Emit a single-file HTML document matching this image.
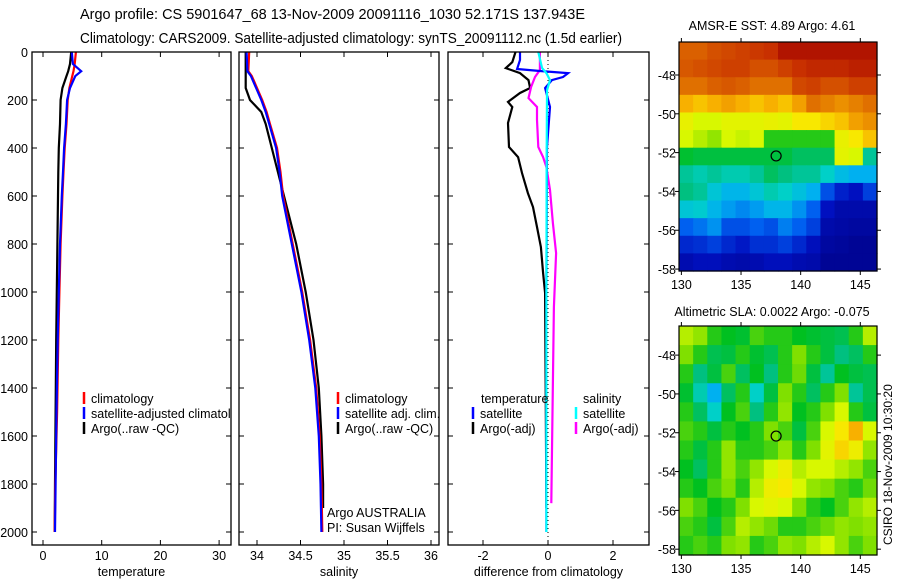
<!DOCTYPE html>
<html><head><meta charset="utf-8"><style>
body{margin:0;background:#fff;}
svg{display:block;font-family:"Liberation Sans",sans-serif;}
</style></head><body>
<svg id="fig" width="900" height="580" viewBox="0 0 900 580">
<text x="80" y="19" font-size="14.5" textLength="505" lengthAdjust="spacingAndGlyphs">Argo profile: CS 5901647_68 13-Nov-2009 20091116_1030 52.171S 137.943E</text>
<text x="80" y="43" font-size="14.5" textLength="542" lengthAdjust="spacingAndGlyphs">Climatology: CARS2009. Satellite-adjusted climatology: synTS_20091112.nc (1.5d earlier)</text>
<text x="772" y="30" font-size="12.5" text-anchor="middle">AMSR-E SST: 4.89 Argo: 4.61</text>
<text x="772" y="316" font-size="12.5" text-anchor="middle">Altimetric SLA: 0.0022 Argo: -0.075</text>
<text transform="translate(892,545) rotate(-90)" font-size="12">CSIRO 18-Nov-2009 10:30:20</text>
</svg>
<script>
// ---- profile data ----
const tDepth=[0,50,80,100,150,200,300,400,500,600,800,1000,1200,1500,1800,2000];
const tArgo=[4.8,4.6,4.3,4.0,3.3,3.0,2.9,2.7,2.6,2.55,2.45,2.35,2.25,2.15,2.05,2.0];
const tClim=[5.6,5.4,5.2,5.0,4.5,4.2,4.0,3.7,3.5,3.3,3.0,2.8,2.6,2.4,2.1,2.0];
const tSat=[4.9,5.1,6.5,5.5,4.6,4.1,3.9,3.6,3.4,3.2,2.9,2.7,2.5,2.3,2.15,2.05];
const sDepth=[0,80,100,150,200,250,300,400,500,600,800,1000,1200,1400,1600,1800,2000];
const sClim=[33.91,33.9,33.94,34.0,34.06,34.11,34.15,34.23,34.27,34.3,34.41,34.52,34.61,34.68,34.72,34.74,34.75];
const sSat=[33.88,33.89,33.93,33.99,34.05,34.1,34.14,34.22,34.26,34.29,34.4,34.51,34.6,34.67,34.71,34.73,34.74];
const sArgoDepth=[0,150,200,250,300,400,500,600,800,1000,1200,1400,1600,1800,1900];
const sArgo=[33.87,33.87,33.92,34.05,34.1,34.17,34.24,34.31,34.45,34.56,34.65,34.71,34.74,34.76,34.76];
const dTDepth=[0,42,67,88,117,150,171,208,229,296,396,438,504,588,646,729,813,921,1004,1400,1900];
const dTArgo=[-1.0,-1.1,-1.3,-0.86,-0.6,-0.55,-0.86,-1.23,-1.1,-1.23,-1.2,-0.92,-0.8,-0.62,-0.46,-0.34,-0.22,-0.15,-0.09,-0.07,-0.05];
const dTSatDepth=[0,33,71,79,88,104,117,150,229,396,1000,2000];
const dTSat=[-0.86,-0.86,-0.95,-0.25,0.62,0.46,0.12,-0.09,0.06,-0.03,-0.05,-0.05];
const dSArgoDepth=[0,75,104,146,192,229,283,396,438,479,575,713,838,1063,1500,1880];
const dSArgo=[-0.25,-0.25,-0.4,-0.52,-0.6,-0.34,-0.34,-0.3,-0.15,-0.05,0.06,0.15,0.25,0.18,0.14,0.1];
const dSSatDepth=[0,67,88,117,160,400,1000,2000];
const dSSat=[-0.3,-0.18,-0.05,0.06,-0.03,-0.04,-0.05,-0.05];
const depthTicks=[0,200,400,600,800,1000,1200,1400,1600,1800,2000];
const tTicks=[0,10,20,30];
const sTicks=[34,34.5,35,35.5,36];
const dTicks=[-2,0,2];
// ---- map data (normalised colour values 0..1) ----
const sstGrid=[
[0.82,0.82,0.84,0.85,0.86,0.87,0.88,0.95,0.95,0.95,0.95,0.95,0.95,0.95],
[0.83,0.84,0.85,0.86,0.86,0.84,0.84,0.86,0.88,0.9,0.9,0.9,0.92,0.92],
[0.8,0.8,0.82,0.83,0.82,0.8,0.8,0.8,0.85,0.86,0.84,0.84,0.86,0.86],
[0.72,0.7,0.72,0.74,0.72,0.7,0.72,0.7,0.74,0.8,0.78,0.76,0.78,0.8],
[0.63,0.6,0.6,0.62,0.62,0.62,0.63,0.62,0.66,0.66,0.68,0.7,0.74,0.76],
[0.6,0.58,0.56,0.6,0.59,0.6,0.5,0.5,0.5,0.5,0.5,0.63,0.66,0.7],
[0.47,0.46,0.46,0.46,0.46,0.46,0.46,0.46,0.44,0.44,0.44,0.62,0.6,0.4],
[0.4,0.38,0.4,0.38,0.38,0.4,0.44,0.42,0.4,0.4,0.36,0.32,0.3,0.3],
[0.42,0.4,0.34,0.31,0.31,0.34,0.38,0.36,0.33,0.3,0.2,0.14,0.12,0.18],
[0.34,0.35,0.31,0.28,0.26,0.28,0.31,0.31,0.27,0.22,0.12,0.08,0.08,0.08],
[0.22,0.24,0.27,0.2,0.2,0.22,0.2,0.25,0.22,0.18,0.08,0.07,0.06,0.06],
[0.15,0.16,0.18,0.15,0.13,0.16,0.16,0.18,0.15,0.11,0.06,0.05,0.04,0.04],
[0.09,0.11,0.11,0.09,0.08,0.09,0.11,0.11,0.09,0.08,0.04,0.04,0.04,0.04]];
const slaGrid=[
[0.58,0.56,0.5,0.48,0.47,0.52,0.5,0.5,0.48,0.47,0.46,0.45,0.5,0.58],
[0.55,0.5,0.45,0.46,0.5,0.47,0.45,0.5,0.55,0.5,0.46,0.42,0.44,0.5],
[0.5,0.42,0.46,0.52,0.44,0.48,0.42,0.5,0.54,0.46,0.4,0.48,0.46,0.45],
[0.47,0.38,0.3,0.44,0.5,0.36,0.46,0.55,0.5,0.44,0.5,0.55,0.4,0.45],
[0.5,0.44,0.36,0.48,0.52,0.42,0.5,0.56,0.48,0.5,0.55,0.6,0.5,0.46],
[0.52,0.5,0.46,0.5,0.48,0.5,0.55,0.52,0.46,0.52,0.6,0.66,0.72,0.6],
[0.5,0.46,0.5,0.56,0.5,0.5,0.52,0.56,0.5,0.55,0.62,0.68,0.64,0.56],
[0.48,0.44,0.5,0.56,0.52,0.56,0.6,0.64,0.58,0.6,0.6,0.58,0.56,0.52],
[0.5,0.48,0.52,0.55,0.5,0.58,0.64,0.66,0.6,0.56,0.55,0.52,0.5,0.54],
[0.55,0.52,0.48,0.5,0.55,0.6,0.62,0.6,0.55,0.5,0.48,0.52,0.56,0.58],
[0.52,0.5,0.46,0.52,0.58,0.56,0.54,0.5,0.5,0.52,0.54,0.56,0.55,0.56],
[0.5,0.52,0.5,0.55,0.56,0.5,0.52,0.56,0.55,0.58,0.6,0.56,0.52,0.55]];
const latTicks=[-48,-50,-52,-54,-56,-58];
const lonTicks=[130,135,140,145];
const argoLon=137.943, argoLat=-52.171;

const NS='http://www.w3.org/2000/svg';
const svg=document.getElementById('fig');
function mk(tag,attrs,parent){const e=document.createElementNS(NS,tag);for(const k in attrs)e.setAttribute(k,attrs[k]);(parent||svg).appendChild(e);return e;}
const Y0=52, YS=0.24;
function yD(d){return Y0+d*YS;}
const panels=[
 {x0:32,x1:231,xv:v=>43+v*5.87,ticks:tTicks,lab:'temperature',name:'temperature-panel'},
 {x0:239,x1:439,xv:v=>257+(v-34)*87,ticks:sTicks,lab:'salinity',name:'salinity-panel'},
 {x0:448,x1:649,xv:v=>548+v*32.5,ticks:dTicks,lab:'difference from climatology',name:'difference-panel'}];
const YB=545;
panels.forEach((p,i)=>{
  const g=mk('g',{});
  
  
  const cp=mk('clipPath',{id:'clip'+i},g);mk('rect',{x:p.x0,y:Y0,width:p.x1-p.x0,height:YB-Y0},cp);
  p.g=g;
  depthTicks.forEach(d=>{
    const y=yD(d);
    mk('line',{x1:p.x0,x2:p.x0+5,y1:y,y2:y,stroke:'#000'},g);
    mk('line',{x1:p.x1,x2:p.x1-5,y1:y,y2:y,stroke:'#000'},g);
    if(i===0){const t=mk('text',{x:28,y:y+5,'font-size':12.5,'text-anchor':'end'},g);t.textContent=d;
      
      }
  });
  p.ticks.forEach(v=>{
    const x=p.xv(v);
    mk('line',{x1:x,x2:x,y1:Y0,y2:Y0+5,stroke:'#000'},g);
    mk('line',{x1:x,x2:x,y1:YB,y2:YB-5,stroke:'#000'},g);
    const t=mk('text',{x:x,y:560,'font-size':12.5,'text-anchor':'middle'},g);t.textContent=v;
    
    
  });
  const lt=mk('text',{x:(p.x0+p.x1)/2,y:576,'font-size':12.5,'text-anchor':'middle'},g);lt.textContent=p.lab;
  
  
});
function line(p,idx,depths,vals,col,name,w){
  const pts=depths.map((d,k)=>p.xv(vals[k]).toFixed(1)+','+yD(d).toFixed(1)).join(' ');
  const e=mk('polyline',{points:pts,fill:'none',stroke:col,'stroke-width':w||2.2,'clip-path':'url(#clip'+idx+')'},p.g);
  
  
}
const P=panels;
mk('line',{x1:P[2].xv(0),x2:P[2].xv(0),y1:Y0,y2:YB,stroke:'#000','stroke-dasharray':'1,3'},P[2].g);
line(P[0],0,tDepth,tArgo,'#000','temp-argo-line');
line(P[0],0,tDepth,tClim,'#f00','temp-climatology-line');
line(P[0],0,tDepth,tSat,'#00f','temp-satellite-line');
line(P[1],1,sArgoDepth,sArgo,'#000','sal-argo-line');
line(P[1],1,sDepth,sClim,'#f00','sal-climatology-line');
line(P[1],1,sDepth,sSat,'#00f','sal-satellite-line');
line(P[2],2,dTDepth,dTArgo,'#000','temp-diff-argo-line');
line(P[2],2,dSArgoDepth,dSArgo,'#f0f','sal-diff-argo-line');
line(P[2],2,dTSatDepth,dTSat,'#00f','temp-diff-satellite-line');
line(P[2],2,dSSatDepth,dSSat,'#0ff','sal-diff-satellite-line');
P.forEach(p=>{const r=mk('rect',{x:p.x0,y:Y0,width:p.x1-p.x0,height:YB-Y0,fill:'none',stroke:'#000','stroke-width':1.3},p.g);
 
 });
function legend(g,idx,x,y,col,txt){
  mk('line',{x1:x,x2:x,y1:y-11,y2:y+1,stroke:col,'stroke-width':2.5},g);
  const t=mk('text',{x:x+7,y:y,'font-size':12.5,'clip-path':'url(#clip'+idx+')'},g);t.textContent=txt;
  
  
}
legend(P[0].g,0,84,403,'#f00','climatology');
legend(P[0].g,0,84,418,'#00f','satellite-adjusted climatology');
legend(P[0].g,0,84,433,'#000','Argo(..raw -QC)');
legend(P[1].g,1,338,403,'#f00','climatology');
legend(P[1].g,1,338,418,'#00f','satellite adj. clim.');
legend(P[1].g,1,338,433,'#000','Argo(..raw -QC)');
[['temperature',481,403],['salinity',583,403]].forEach(a=>{const t=mk('text',{x:a[1],y:a[2],'font-size':12.5},P[2].g);t.textContent=a[0];
 
 });
legend(P[2].g,2,473,418,'#00f','satellite');
legend(P[2].g,2,473,433,'#000','Argo(-adj)');
legend(P[2].g,2,576,418,'#0ff','satellite');
legend(P[2].g,2,576,433,'#f0f','Argo(-adj)');
[['Argo AUSTRALIA',517],['PI: Susan Wijffels',532]].forEach(a=>{const t=mk('text',{x:327,y:a[1],'font-size':12.5},P[1].g);t.textContent=a[0];
 
 });

// ---- maps ----
const stops=[[0,[0,0,128]],[0.12,[0,16,192]],[0.22,[0,96,240]],[0.3,[0,176,240]],[0.36,[0,208,200]],[0.42,[0,192,128]],[0.48,[0,192,32]],[0.55,[128,224,0]],[0.6,[216,248,0]],[0.66,[248,232,0]],[0.72,[248,176,0]],[0.8,[224,112,0]],[0.88,[200,48,0]],[1,[160,0,0]]];
function cmap(v){for(let i=1;i<stops.length;i++){if(v<=stops[i][0]){const a=stops[i-1],b=stops[i],f=(v-a[0])/(b[0]-a[0]);return 'rgb('+a[1].map((c,k)=>Math.round(c+(b[1][k]-c)*f)).join(',')+')';}}return 'rgb(160,0,0)';}
function drawMap(name,grid,x0,x1,y0,y1,latTop,latBot,lonL,lonR){
  const g=mk('g',{});
  
  
  const rows=grid.length,cols=grid[0].length;
  const cw=(x1-x0)/cols,ch=(y1-y0)/rows;
  grid.forEach((row,r)=>row.forEach((v,c)=>{
    const e=mk('rect',{x:x0+c*cw,y:y0+r*ch,width:cw+0.6,height:ch+0.6,fill:cmap(v)},g);
    
    
  }));
  const lx=l=>x0+(l-lonL)/(lonR-lonL)*(x1-x0);
  const ly=l=>y0+(latTop-l)/(latTop-latBot)*(y1-y0);
  mk('rect',{x:x0,y:y0,width:x1-x0,height:y1-y0,fill:'none',stroke:'#000','stroke-width':1.2},g);
  latTicks.forEach(l=>{const y=ly(l);
    mk('line',{x1:x0-4,x2:x0,y1:y,y2:y,stroke:'#000'},g);
    mk('line',{x1:x1,x2:x1+4,y1:y,y2:y,stroke:'#000'},g);
    const t=mk('text',{x:x0-3,y:y+5,'font-size':12.5,'text-anchor':'end'},g);t.textContent=l;
    
    });
  lonTicks.forEach(l=>{const x=lx(l);
    mk('line',{x1:x,x2:x,y1:y0-4,y2:y0,stroke:'#000'},g);
    mk('line',{x1:x,x2:x,y1:y1,y2:y1+4,stroke:'#000'},g);
    const t=mk('text',{x:x,y:y1+18,'font-size':12.5,'text-anchor':'middle'},g);t.textContent=l;
    
    });
  const c=mk('circle',{cx:lx(argoLon),cy:ly(argoLat),r:5,fill:'none',stroke:'#000','stroke-width':1.2},g);
  
  
}
drawMap('sst-map',sstGrid,679,877,42,271,-46.3,-58.1,129.8,146.4);
drawMap('sla-map',slaGrid,679,877,326,555,-46.5,-58.3,129.8,146.4);
</script>
</body></html>
